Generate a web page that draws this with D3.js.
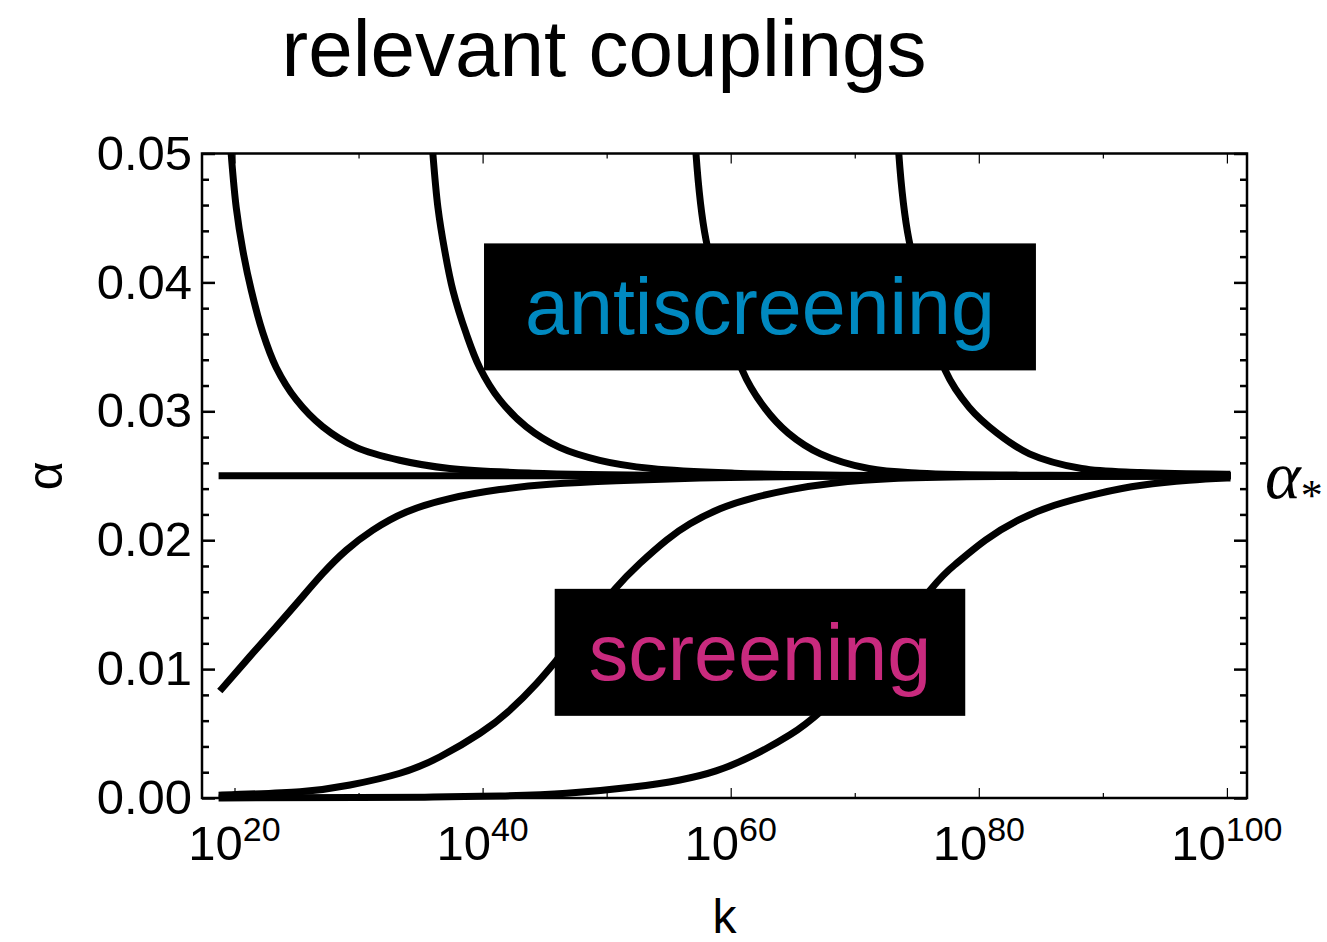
<!DOCTYPE html>
<html>
<head>
<meta charset="utf-8">
<script src="https://cdn.jsdelivr.net/npm/d3@7"></script>
<style>
  html, body { margin: 0; padding: 0; background: #fff; }
  svg { display: block; }
</style>
</head>
<body>
<svg id="chart" width="1327" height="942"></svg>
<script>
// Flow of a relevant coupling alpha(k) towards its fixed point alpha_*.
// Trajectories are stored as [log10 k, alpha] pairs.
const alphaStar = 0.025;
const kExpRange = [19, 100];
const alphaRange = [0, 0.05];

const antiscreening1 = [[19.73,0.0500],[20.14,0.0458],[20.67,0.0425],[21.35,0.0394],[22.28,0.0361],[23.36,0.0334],[24.98,0.0309],[27.12,0.0288],[29.81,0.0272],[33.31,0.0262],[37.34,0.02556],[44.0,0.0252],[57.5,0.02502],[100,0.0250]];
const antiscreening2 = [[35.99,0.0500],[36.40,0.0458],[36.94,0.0425],[37.60,0.0394],[38.69,0.0360],[39.76,0.0334],[41.37,0.0309],[43.52,0.0288],[46.21,0.0272],[49.44,0.0262],[53.6,0.02556],[60.3,0.0252],[73.0,0.02502],[100,0.0250]];
const antiscreening3 = [[57.20,0.0500],[58.01,0.0433],[60.93,0.0332],[62.71,0.0303],[64.65,0.0283],[67.24,0.0267],[71.13,0.02556],[75.24,0.0252],[85.7,0.02503],[100,0.0250]];
const antiscreening4 = [[73.55,0.0500],[74.37,0.0433],[77.28,0.0332],[79.23,0.0303],[81.49,0.0283],[84.08,0.0267],[88.29,0.02556],[93.0,0.02525],[100,0.02512]];
const fixedPoint = [[19,alphaStar],[100,alphaStar]];
const screening1 = [[19.0,0.0085],[21.21,0.01095],[23.36,0.01328],[25.24,0.01535],[27.12,0.01742],[29.01,0.01922],[31.15,0.02078],[33.85,0.02219],[37.34,0.02323],[41.37,0.02393],[45.40,0.02434],[50.78,0.02462],[57.5,0.02482],[69.6,0.02496],[100,0.0250]];
const screening2 = [[19.0,0.00023],[25.28,0.00049],[29.31,0.00101],[33.34,0.00192],[36.57,0.0032],[39.79,0.00502],[42.21,0.00683],[44.36,0.0089],[45.97,0.0107],[48.34,0.01346],[50.67,0.01621],[52.69,0.01821],[54.84,0.02002],[56.72,0.02128],[59.14,0.02244],[61.77,0.02327],[64.70,0.02390],[68.22,0.02442],[73.49,0.02480],[81.71,0.02494],[100,0.0250]];
const screening3 = [[19.0,0.000005],[30.0,0.00003],[36.0,0.00007],[41.4,0.00016],[46.78,0.000365],[52.12,0.00085],[55.91,0.0014],[58.82,0.0021],[61.80,0.0033],[64.78,0.0049],[67.36,0.0068],[71.71,0.0110],[76.14,0.0162],[78.19,0.01819],[80.54,0.0200],[83.18,0.02155],[86.10,0.02271],[89.62,0.02362],[93.14,0.02426],[96.94,0.02465],[100,0.02482]];

const antiscreeningCurves = [antiscreening1, antiscreening2, antiscreening3, antiscreening4, fixedPoint];
const screeningCurves = [screening1, screening2, screening3];

const yTickValues = [0, 0.01, 0.02, 0.03, 0.04, 0.05];
const yTickLabels = ["0.00", "0.01", "0.02", "0.03", "0.04", "0.05"];
const yMinorStep = 0.002;
const xTickExps = [20, 40, 60, 80, 100];
const xMinorExps = [30, 50, 70, 90];

const regionNames = ["antiscreening", "screening"];
const regionAnchor = [[62.36, 0.0381], [62.36, 0.0113]];   // [log10 k, alpha] of box centre

// ---- styling and layout ----
const regionColors = ["#0089c0", "#c92a7e"];
const regionPadX = [41, 34];
const W = 1327, H = 942;
const plot = { left: 202, right: 1247, top: 153.5, bottom: 798 };
const sans = "'Liberation Sans', Arial, Helvetica, sans-serif";
const serif = "'Liberation Serif', 'Times New Roman', serif";

const svg = d3.select("#chart");

const span = kExpRange[1] - kExpRange[0];
const padExp = 0.02 * span;
const x = d3.scaleLog()
  .domain([Math.pow(10, kExpRange[0] - padExp), Math.pow(10, kExpRange[1] + padExp)])
  .range([plot.left, plot.right]);
const y = d3.scaleLinear().domain(alphaRange).range([plot.bottom, plot.top]);

svg.append("defs").append("clipPath").attr("id", "plotClip")
  .append("rect")
  .attr("x", plot.left).attr("y", plot.top)
  .attr("width", plot.right - plot.left)
  .attr("height", plot.bottom - plot.top + 4);

// trajectories
const lineFrom = curve => d3.line()
  .x(d => x(Math.pow(10, d[0])))
  .y(d => y(d[1]))
  .curve(curve);

const curvesG = svg.append("g").attr("clip-path", "url(#plotClip)");
[[antiscreeningCurves, d3.curveCatmullRom.alpha(0.5)], [screeningCurves, d3.curveNatural]]
  .forEach(([set, curve]) => {
    curvesG.append("g").selectAll("path").data(set).join("path")
      .attr("d", lineFrom(curve))
      .attr("fill", "none")
      .attr("stroke", "#000")
      .attr("stroke-width", 7)
      .attr("stroke-linecap", "square")
      .attr("stroke-linejoin", "round");
  });

// region labels on black boxes
regionNames.forEach((name, i) => {
  const cx = x(Math.pow(10, regionAnchor[i][0]));
  const cy = y(regionAnchor[i][1]);
  const g = svg.append("g");
  const rect = g.append("rect").attr("fill", "#000");
  const t = g.append("text")
    .attr("x", cx).attr("y", cy)
    .attr("text-anchor", "middle")
    .attr("dominant-baseline", "central")
    .attr("font-family", sans)
    .attr("font-size", 79)
    .attr("fill", regionColors[i])
    .text(name);
  const len = t.node().getComputedTextLength();
  const w = len + 2 * regionPadX[i], h = 127;
  rect.attr("x", cx - w / 2).attr("y", cy - h / 2).attr("width", w).attr("height", h);
});

// frame
svg.append("rect")
  .attr("x", plot.left).attr("y", plot.top)
  .attr("width", plot.right - plot.left).attr("height", plot.bottom - plot.top)
  .attr("fill", "none").attr("stroke", "#000").attr("stroke-width", 2.5);

const yMinor = d3.range(0, alphaRange[1] + 1e-9, yMinorStep)
  .filter(v => !yTickValues.some(t => Math.abs(t - v) < 1e-9));

function styleAxis(g, width) {
  g.select(".domain").remove();
  g.selectAll(".tick line").attr("stroke", "#000").attr("stroke-width", width);
  g.selectAll(".tick text")
    .attr("font-family", sans).attr("font-size", 49).attr("fill", "#000");
}

// left axis with labels
svg.append("g").attr("transform", `translate(${plot.left},0)`)
  .call(d3.axisLeft(y).tickValues(yTickValues)
    .tickFormat((d, i) => yTickLabels[i]).tickSizeInner(-13).tickSizeOuter(0).tickPadding(10))
  .call(g => styleAxis(g, 2.5));
svg.append("g").attr("transform", `translate(${plot.left},0)`)
  .call(d3.axisLeft(y).tickValues(yMinor).tickFormat("").tickSizeInner(-7).tickSizeOuter(0))
  .call(g => styleAxis(g, 2.5));
// right axis
svg.append("g").attr("transform", `translate(${plot.right},0)`)
  .call(d3.axisRight(y).tickValues(yTickValues).tickFormat("").tickSizeInner(-13).tickSizeOuter(0))
  .call(g => styleAxis(g, 2.5));
svg.append("g").attr("transform", `translate(${plot.right},0)`)
  .call(d3.axisRight(y).tickValues(yMinor).tickFormat("").tickSizeInner(-7).tickSizeOuter(0))
  .call(g => styleAxis(g, 2.5));

// bottom and top axes
const xMajor = xTickExps.map(e => Math.pow(10, e));
const xMinor = xMinorExps.map(e => Math.pow(10, e));
[[d3.axisBottom, plot.bottom], [d3.axisTop, plot.top]].forEach(([axisFn, pos]) => {
  svg.append("g").attr("transform", `translate(0,${pos})`)
    .call(axisFn(x).tickValues(xMajor).tickFormat("").tickSizeInner(-10).tickSizeOuter(0))
    .call(g => styleAxis(g, 1.2));
  svg.append("g").attr("transform", `translate(0,${pos})`)
    .call(axisFn(x).tickValues(xMinor).tickFormat("").tickSizeInner(-5).tickSizeOuter(0))
    .call(g => styleAxis(g, 1.2));
});

// power-of-ten tick labels
const xLabels = svg.append("g");
xTickExps.forEach(e => {
  const t = xLabels.append("text")
    .attr("x", x(Math.pow(10, e))).attr("y", 860)
    .attr("text-anchor", "middle")
    .attr("font-family", sans).attr("font-size", 49).attr("fill", "#000");
  t.append("tspan").text("10");
  t.append("tspan").attr("font-size", 34).attr("dy", -19).text(String(e));
});

// axis titles
svg.append("text")
  .attr("x", (plot.left + plot.right) / 2).attr("y", 933)
  .attr("text-anchor", "middle")
  .attr("font-family", sans).attr("font-size", 48).text("k");
svg.append("text")
  .attr("transform", `translate(62,${(plot.top + plot.bottom) / 2}) rotate(-90)`)
  .attr("text-anchor", "middle")
  .attr("font-family", sans).attr("font-size", 50).text("α");

// fixed-point marker
const star = svg.append("text")
  .attr("x", 1265).attr("y", y(alphaStar) + 22)
  .attr("font-family", serif).attr("font-size", 68).attr("fill", "#000");
star.append("tspan").attr("font-style", "italic").text("α");
star.append("tspan").attr("font-size", 44).attr("dy", 12).text("*");

// title
svg.append("text")
  .attr("x", 604).attr("y", 76)
  .attr("text-anchor", "middle")
  .attr("font-family", sans).attr("font-size", 80).attr("fill", "#000")
  .text("relevant couplings");
</script>
</body>
</html>
